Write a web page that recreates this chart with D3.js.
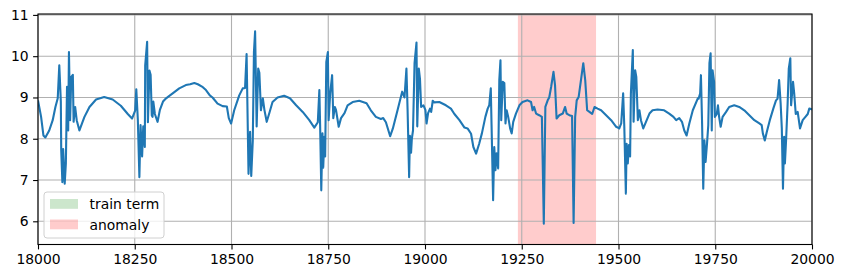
<!DOCTYPE html>
<html>
<head>
  <meta charset="utf-8">
  <title>Series with anomaly span</title>
  <script src="https://cdn.jsdelivr.net/npm/d3@7"></script>
  <style>
    body { margin: 0; background: #fff; }
    svg text { font-family: "DejaVu Sans", sans-serif; font-size: 13.9px; fill: #000; }
  </style>
</head>
<body>
<svg id="chart" width="844" height="278"></svg>
<script>
// values
var time = [18000,18008,18014,18019,18029,18038,18045,18051,18055,18059,18060,18063,18065,18069,18072,18075,18078,18080,18083,18086,
  18090,18092,18096,18100,18107,18120,18133,18150,18171,18193,18214,18232,18243,18251,18254,18258,18262,18265,18269,18272,
  18276,18277,18282,18284,18288,18291,18294,18296,18298,18302,18309,18315,18323,18331,18341,18348,18365,18382,18393,18404,
  18413,18426,18434,18444,18451,18464,18477,18488,18493,18499,18507,18520,18529,18535,18539,18544,18548,18551,18555,18558,
  18561,18565,18569,18572,18576,18581,18585,18591,18598,18606,18619,18636,18651,18667,18684,18701,18714,18723,18727,18729,
  18732,18735,18737,18740,18742,18745,18749,18751,18755,18760,18763,18767,18770,18777,18783,18792,18800,18813,18830,18849,
  18860,18873,18886,18892,18899,18910,18917,18929,18941,18947,18952,18955,18959,18961,18964,18966,18969,18973,18978,18980,
  18984,18987,18990,18996,19001,19004,19008,19013,19016,19020,19024,19037,19054,19067,19076,19089,19102,19110,19119,19125,
  19132,19140,19147,19156,19162,19166,19170,19172,19176,19179,19182,19185,19189,19192,19195,19197,19201,19205,19208,19211,
  19215,19220,19224,19228,19235,19244,19252,19265,19274,19278,19282,19287,19295,19302,19307,19311,19317,19321,19326,19332,
  19336,19340,19347,19356,19362,19366,19373,19380,19384,19388,19392,19397,19403,19409,19414,19419,19425,19432,19438,19446,
  19455,19468,19481,19494,19502,19507,19512,19515,19519,19521,19524,19527,19530,19532,19537,19539,19543,19546,19550,19554,
  19558,19564,19571,19580,19588,19601,19618,19631,19642,19649,19657,19664,19670,19676,19683,19692,19705,19707,19711,19713,
  19716,19719,19722,19725,19729,19732,19735,19738,19741,19743,19747,19749,19754,19757,19760,19764,19769,19778,19786,19799,
  19812,19825,19838,19851,19864,19870,19873,19878,19883,19891,19900,19907,19911,19915,19919,19922,19925,19928,19930,19933,
  19937,19940,19944,19946,19951,19954,19958,19963,19969,19976,19983,19989,19993,20000];

var value = [8.93,8.53,8.08,8.03,8.2,8.45,8.77,8.98,9.78,8.9,7.72,6.95,7.75,6.91,7.4,9.26,8.2,10.1,8.45,9.5,
  9.55,8.41,8.77,8.45,8.2,8.53,8.77,8.95,9.01,8.95,8.8,8.6,8.49,8.68,9.2,8.45,7.07,8.33,7.57,8.3,
  7.8,9.78,10.35,8.4,9.65,9.55,8.57,8.53,8.9,8.6,8.41,8.7,8.9,8.98,9.05,9.1,9.22,9.3,9.32,9.35,
  9.32,9.25,9.18,9.05,9.0,8.85,8.79,8.78,8.5,8.37,8.69,9.05,9.22,9.23,10.05,7.15,8.17,7.1,7.95,10.1,
  10.6,8.3,9.7,9.6,8.69,8.98,8.7,8.41,8.63,8.89,9.0,9.04,8.98,8.81,8.65,8.45,8.27,8.4,9.18,8.33,
  6.75,8.13,7.3,8.05,7.57,9.86,10.1,8.45,9.1,9.54,8.5,8.77,8.7,8.29,8.5,8.62,8.81,8.89,8.92,8.86,
  8.69,8.53,8.48,8.5,8.4,8.06,8.25,8.69,9.14,9.0,9.7,8.7,7.07,8.07,7.66,8.0,8.2,9.83,10.33,8.3,
  9.7,9.45,8.77,8.81,8.7,8.37,8.62,8.73,8.65,8.92,8.88,8.89,8.81,8.73,8.6,8.45,8.27,8.25,8.12,7.8,
  7.64,7.88,8.13,8.53,8.73,8.81,9.22,8.33,6.51,7.8,7.24,7.65,7.28,9.42,9.9,8.45,9.38,9.35,8.37,8.69,
  8.53,8.25,8.13,8.41,8.61,8.81,8.89,8.93,8.89,8.69,8.77,8.61,8.57,8.53,5.94,8.77,8.93,9.0,9.26,9.62,
  9.3,8.49,8.57,8.61,8.77,8.61,8.57,8.55,5.96,8.53,8.93,9.01,9.42,9.83,9.42,8.69,8.65,8.6,8.77,8.73,
  8.69,8.57,8.45,8.29,8.25,8.37,9.1,8.29,6.67,7.88,7.4,7.85,7.57,9.1,10.15,8.41,9.66,9.5,8.45,8.69,
  8.45,8.25,8.41,8.61,8.69,8.71,8.69,8.61,8.53,8.45,8.5,8.41,8.2,8.08,8.37,8.69,8.98,8.97,9.1,9.54,
  8.37,6.79,7.96,7.44,7.92,8.33,9.83,10.07,8.2,9.66,9.38,8.53,8.6,8.81,8.53,8.29,8.53,8.65,8.77,8.81,
  8.77,8.69,8.57,8.45,8.37,8.33,8.13,7.96,8.16,8.45,8.73,8.93,8.97,9.42,8.85,8.25,6.79,8.05,7.4,7.96,
  8.85,9.7,9.95,8.81,9.38,9.1,8.6,8.65,8.25,8.45,8.53,8.6,8.73,8.71];

var anomaly = [19240, 19442];
var xTicks = [18000, 18250, 18500, 18750, 19000, 19250, 19500, 19750, 20000];
var yTicks = [6, 7, 8, 9, 10, 11];
var legendLabels = ['train term', 'anomaly'];
var legendColors = ['rgba(0,128,0,0.2)', 'rgba(255,0,0,0.2)'];

var svg = d3.select('#chart'),
    margin = {top: 14, right: 32, bottom: 33.5, left: 38},
    width = 844 - margin.left - margin.right,
    height = 278 - margin.top - margin.bottom;

var x = d3.scaleLinear().domain([18000, 20000]).range([0, width]);
var y = d3.scaleLinear().domain([5.438, 11.022]).range([height, 0]);

var g = svg.append('g')
    .attr('transform', 'translate(' + margin.left + ',' + margin.top + ')');

g.append('defs').append('clipPath').attr('id', 'clip')
  .append('rect').attr('width', width).attr('height', height);

// anomaly span
g.append('rect')
    .attr('x', x(anomaly[0]))
    .attr('y', 0)
    .attr('width', x(anomaly[1]) - x(anomaly[0]))
    .attr('height', height)
    .attr('fill', legendColors[1]);

// grid
g.append('g').selectAll('line').data(xTicks).join('line')
    .attr('x1', function(d) { return x(d); }).attr('x2', function(d) { return x(d); })
    .attr('y1', 0).attr('y2', height)
    .attr('stroke', '#b0b0b0').attr('stroke-width', 1.1);
g.append('g').selectAll('line').data(yTicks).join('line')
    .attr('y1', function(d) { return y(d); }).attr('y2', function(d) { return y(d); })
    .attr('x1', 0).attr('x2', width)
    .attr('stroke', '#b0b0b0').attr('stroke-width', 1.1);

// series
var line = d3.line()
    .x(function(d, i) { return x(time[i]); })
    .y(function(d) { return y(d); });

g.append('path')
    .datum(value)
    .attr('clip-path', 'url(#clip)')
    .attr('fill', 'none')
    .attr('stroke', '#1f77b4')
    .attr('stroke-width', 2.1)
    .attr('stroke-linejoin', 'round')
    .attr('d', line);

// axes
var xAxis = g.append('g')
    .attr('transform', 'translate(0,' + height + ')')
    .call(d3.axisBottom(x).tickValues(xTicks).tickFormat(d3.format('d')).tickSize(4.9).tickPadding(4.5));
var yAxis = g.append('g')
    .call(d3.axisLeft(y).tickValues(yTicks).tickFormat(d3.format('d')).tickSize(4.9).tickPadding(4.5));

[xAxis, yAxis].forEach(function(a) {
  a.select('.domain').remove();
  a.selectAll('line').attr('stroke', '#000').attr('stroke-width', 1.1);
  a.selectAll('text').attr('font-family', '"DejaVu Sans", sans-serif').attr('font-size', '13.9px').attr('fill', '#000');
});

// frame
g.append('rect')
    .attr('width', width).attr('height', height)
    .attr('fill', 'none').attr('stroke', '#000').attr('stroke-width', 1.1);

// legend
var lg = g.append('g').attr('transform', 'translate(6,' + (height - 52.5) + ')');
lg.append('rect')
    .attr('width', 120).attr('height', 46)
    .attr('rx', 3)
    .attr('fill', 'rgba(255,255,255,0.8)')
    .attr('stroke', '#d0d0d0').attr('stroke-width', 1);

var items = lg.selectAll('.item').data(legendLabels).join('g')
    .attr('class', 'item')
    .attr('transform', function(d, i) { return 'translate(0,' + (7 + i * 20.5) + ')'; });
items.append('rect')
    .attr('x', 6).attr('width', 28).attr('height', 9.8)
    .attr('fill', function(d, i) { return legendColors[i]; });
items.append('text')
    .attr('x', 45.5).attr('y', 10)
    .text(function(d) { return d; });
</script>
</body>
</html>
